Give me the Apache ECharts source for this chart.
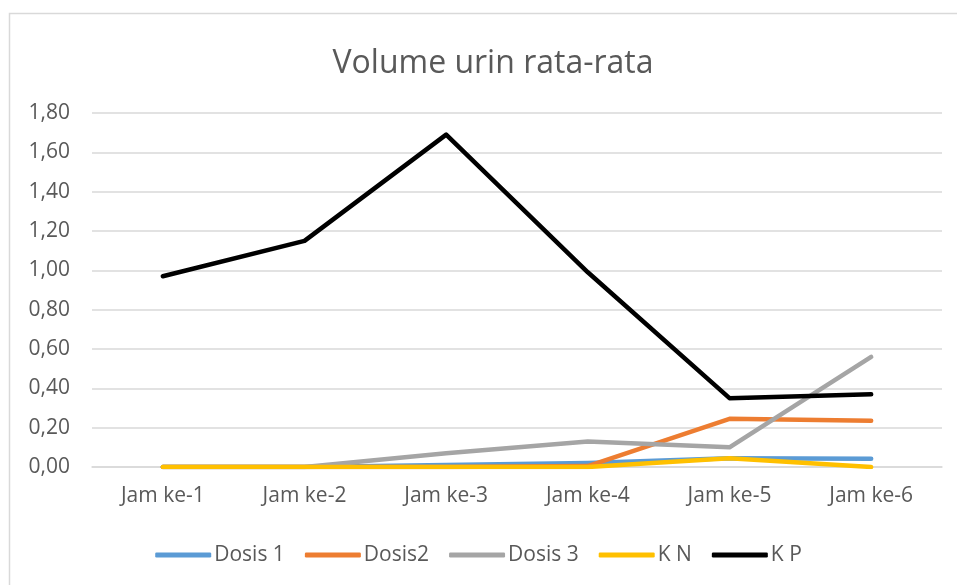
<!DOCTYPE html>
<html><head><meta charset="utf-8">
<script src="https://cdn.jsdelivr.net/npm/echarts@6/dist/echarts.min.js"></script>
<style>html,body{margin:0;padding:0;background:#fff}#c{width:957px;height:585px}</style>
</head><body><div id="c"></div>
<script>
const categories = ['Jam ke-1','Jam ke-2','Jam ke-3','Jam ke-4','Jam ke-5','Jam ke-6'];
const dosis1 = [0, 0, 0.01, 0.02, 0.045, 0.042];
const dosis2 = [0, 0, 0, 0.005, 0.245, 0.235];
const dosis3 = [0, 0, 0.07, 0.13, 0.10, 0.56];
const kN = [0, 0, 0, 0, 0.045, 0];
const kP = [0.97, 1.15, 1.69, 0.99, 0.35, 0.37];
const seriesNames = ['Dosis 1','Dosis2','Dosis 3','K N','K P'];
const colors = ['#5B9BD5','#ED7D31','#A5A5A5','#FFC000','#000000'];
const allData = [dosis1, dosis2, dosis3, kN, kP];
const font = 'Open Sans';
const chart = echarts.init(document.getElementById('c'));
chart.setOption({
  animation:false,
  color: colors,
  graphic:[{type:'rect',shape:{x:9.5,y:13.5,width:1000,height:1000},style:{fill:'none',stroke:'#d9d9d9',lineWidth:1.5},silent:true}],
  title:{text:'Volume urin rata-rata',left:488,top:43,textAlign:'center',textStyle:{fontFamily:font,fontSize:32,fontWeight:'normal',color:'#595959'}},
  grid:{left:92,right:15,top:113,bottom:118,containLabel:false},
  legend:{top:537,left:'center',itemWidth:56,itemHeight:5,itemGap:20,icon:'roundRect',
    textStyle:{fontFamily:font,fontSize:21,lineHeight:26,color:'#595959',padding:[0,0,0,-2]},data:seriesNames},
  xAxis:{type:'category',data:categories,boundaryGap:true,
    axisLine:{lineStyle:{color:'#d9d9d9',width:1.5}},axisTick:{show:false},
    axisLabel:{fontFamily:font,fontSize:21,color:'#595959',margin:19}},
  yAxis:{type:'value',min:0,max:1.8,interval:0.2,
    axisLine:{show:false},axisTick:{show:false},
    splitLine:{lineStyle:{color:'#d9d9d9',width:1.5}},
    axisLabel:{fontFamily:font,fontSize:21,color:'#595959',margin:22,formatter:v=>v.toFixed(2).replace('.',',')}},
  series: allData.map((d,i)=>({name:seriesNames[i],type:'line',data:d,symbol:'none',
    lineStyle:{width:4.5,color:colors[i],cap:'round',join:'round'},itemStyle:{color:colors[i]}}))
});
</script></body></html>
